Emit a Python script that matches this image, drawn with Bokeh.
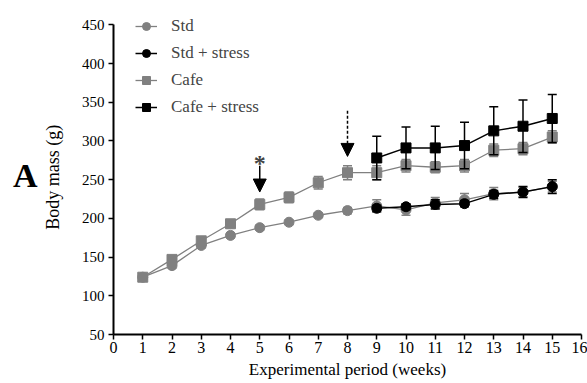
from bokeh.plotting import figure
from bokeh.models import (ColumnDataSource, Legend, LegendItem, Label, Arrow,
                          NormalHead, FixedTicker, LinearAxis)
from bokeh.embed import file_html
from bokeh.resources import INLINE

# ---- data ----
weeks = [1, 2, 3, 4, 5, 6, 7, 8, 9, 10, 11, 12, 13, 14, 15]
std_mean = [124, 139, 165, 178, 188, 195, 204, 210, 216, 211, 220, 224, 232, 234, 241]
std_sem = [3, 3, 3, 3, 3, 3, 3, 4, 8, 7, 7, 8, 8, 6, 7]
cafe_mean = [124, 147, 171, 193, 218, 227, 246, 259, 259, 268, 266, 268, 288, 290, 305]
cafe_sem = [3, 4, 4, 5, 7, 7, 8, 9, 9, 8, 7, 8, 8, 8, 8]

stress_weeks = [9, 10, 11, 12, 13, 14, 15]
std_stress_mean = [213, 215, 218, 219, 231, 234, 241]
std_stress_sem = [4, 4, 6, 4, 5, 7, 9]
cafe_stress_mean = [278, 291, 291, 294, 313, 319, 329]
cafe_stress_sem = [28, 27, 28, 30, 31, 34, 31]

x_ticks = list(range(0, 17))
y_ticks = [50, 100, 150, 200, 250, 300, 350, 400, 450]

series_names = ["Std", "Std + stress", "Cafe", "Cafe + stress"]
x_title = "Experimental period (weeks)"
y_title = "Body mass  (g)"
panel_tag = "A"

# annotation arrows (week, start value, end value)
diet_arrow = (5, 268, 234)
stress_arrow = (8, 339, 280)

GRAY = "#808080"
BLACK = "#000000"
FONT = "Liberation Serif"

p = figure(width=587, height=383, x_range=(0, 16), y_range=(50, 462),
           output_backend="svg", toolbar_location=None,
           min_border_left=113, min_border_right=6,
           min_border_top=15, min_border_bottom=49)
p.outline_line_color = None
p.xgrid.visible = False
p.ygrid.visible = False
p.background_fill_color = "white"
p.border_fill_color = "white"

for ax in (p.xaxis[0], p.yaxis[0]):
    ax.axis_line_width = 2
    ax.axis_line_color = "black"
    ax.major_tick_line_width = 1.5
    ax.major_tick_line_color = "black"
    ax.major_tick_out = 5
    ax.major_tick_in = 0
    ax.minor_tick_line_color = None
    ax.major_label_text_font = FONT
    ax.major_label_text_color = "black"
    ax.axis_label_text_font = FONT
    ax.axis_label_text_font_style = "normal"
    ax.axis_label_text_color = "black"

p.xaxis.ticker = FixedTicker(ticks=x_ticks)
p.yaxis.ticker = FixedTicker(ticks=y_ticks)
p.yaxis.bounds = (50, 450)
p.xaxis.major_label_text_font_size = "16px"
p.yaxis.major_label_text_font_size = "15px"
p.xaxis.major_label_standoff = 2
p.yaxis.major_label_standoff = 4
p.yaxis.axis_label = y_title
p.yaxis.axis_label_text_font_size = "18px"
p.yaxis.axis_label_standoff = 16
p.xaxis.axis_label = x_title
p.xaxis.axis_label_text_font_size = "17px"
p.xaxis.axis_label_standoff = 4

# panel tag "A" as the label of an extra, otherwise empty, left axis
tag_axis = LinearAxis(ticker=FixedTicker(ticks=[]), axis_label=panel_tag,
                      axis_line_color=None, major_tick_line_color=None,
                      minor_tick_line_color=None, major_tick_out=0,
                      major_label_standoff=0, axis_label_standoff=2,
                      axis_label_orientation="horizontal",
                      axis_label_text_font=FONT, axis_label_text_font_size="34px",
                      axis_label_text_font_style="bold",
                      axis_label_text_color="black")
p.add_layout(tag_axis, "left")


def add_series(xs, mean, sem, color, marker, lw):
    lo = [m - s for m, s in zip(mean, sem)]
    hi = [m + s for m, s in zip(mean, sem)]
    src = ColumnDataSource(dict(x=xs, y=mean, lo=lo, hi=hi))
    p.segment(x0="x", y0="lo", x1="x", y1="hi", source=src,
              line_color=color, line_width=1.5)
    p.scatter(x="x", y="lo", source=src, marker="dash", size=9,
              line_color=color, line_width=1.5)
    p.scatter(x="x", y="hi", source=src, marker="dash", size=9,
              line_color=color, line_width=1.5)
    ln = p.line(x="x", y="y", source=src, line_color=color, line_width=lw)
    mk = p.scatter(x="x", y="y", source=src, marker=marker, size=10,
                   fill_color=color, line_color=color)
    return [ln, mk]


r_std = add_series(weeks, std_mean, std_sem, GRAY, "circle", 1.3)
r_cafe = add_series(weeks, cafe_mean, cafe_sem, GRAY, "square", 1.3)
r_std_s = add_series(stress_weeks, std_stress_mean, std_stress_sem, BLACK, "circle", 1.5)
r_cafe_s = add_series(stress_weeks, cafe_stress_mean, cafe_stress_sem, BLACK, "square", 1.5)

legend = Legend(items=[
    LegendItem(label=series_names[0], renderers=r_std),
    LegendItem(label=series_names[1], renderers=r_std_s),
    LegendItem(label=series_names[2], renderers=r_cafe),
    LegendItem(label=series_names[3], renderers=r_cafe_s),
], location=(22, 217), padding=0, margin=0, spacing=7,
    glyph_width=22, glyph_height=20, label_height=20, label_standoff=14,
    label_text_font=FONT, label_text_font_size="17px",
    border_line_alpha=0, background_fill_alpha=0)
p.add_layout(legend)

# arrows
p.add_layout(Arrow(x_start=diet_arrow[0], y_start=diet_arrow[1],
                   x_end=diet_arrow[0], y_end=diet_arrow[2],
                   line_color="black", line_width=1.5,
                   end=NormalHead(size=13, fill_color="black", line_color="black")))
p.add_layout(Arrow(x_start=stress_arrow[0], y_start=stress_arrow[1],
                   x_end=stress_arrow[0], y_end=stress_arrow[2],
                   line_color="black", line_width=1.5, line_dash="3 2",
                   end=NormalHead(size=13, fill_color="black", line_color="black",
                                  line_dash="solid")))
p.add_layout(Label(x=diet_arrow[0], y=diet_arrow[1] + 4, text="*",
                   text_font=FONT, text_font_size="24px", text_font_style="bold",
                   text_align="center", text_baseline="middle"))

open("out.html", "w").write(file_html(p, INLINE))
